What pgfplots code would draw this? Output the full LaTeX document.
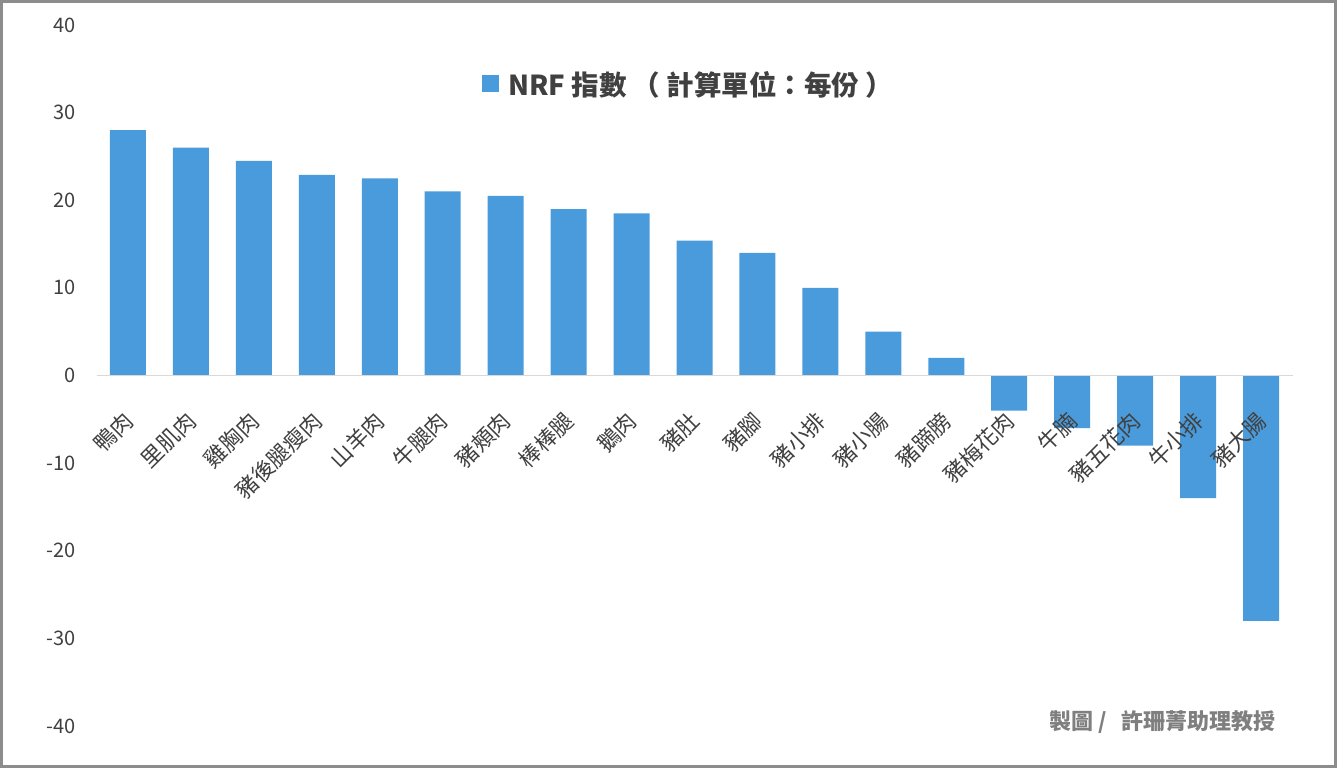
\documentclass[border=0pt]{standalone}
\usepackage{fontspec}
\setmainfont{Noto Sans CJK TC}
\usepackage{pgfplots}
\pgfplotsset{compat=1.18}
\definecolor{barblue}{HTML}{4A9BDB}
\definecolor{txt}{HTML}{404040}
\definecolor{zline}{HTML}{D9D9D9}
\definecolor{framec}{HTML}{8C8C8C}
\definecolor{credit}{HTML}{7F7F7F}
\begin{document}
\begin{tikzpicture}[x=1bp,y=1bp]
\useasboundingbox (0,0) rectangle (1337,768);
\draw[framec, line width=3bp] (1.5,1.5) rectangle (1335.5,766.5);
\begin{axis}[
  at={(96.5bp,42bp)}, anchor=south west,
  scale only axis, width=1196bp, height=701bp,
  xmin=-0.5, xmax=18.5, ymin=-40, ymax=40,
  ybar, bar width=36bp,
  axis on top,
  axis x line=middle, axis y line=left,
  x axis line style={-, draw=zline, line width=1bp},
  y axis line style={draw=none},
  hide obscured x ticks=false, hide obscured y ticks=false,
  major tick length=0pt,
  xtick={0,...,18},
  xticklabels={鴨肉,里肌肉,雞胸肉,豬後腿瘦肉,山羊肉,牛腿肉,豬頰肉,棒棒腿,鵝肉,豬肚,豬腳,豬小排,豬小腸,豬蹄膀,豬梅花肉,牛腩,豬五花肉,牛小排,豬大腸},
  xticklabel style={xshift=1bp, yshift=-41bp, rotate=45, anchor=east, inner sep=0pt, font=\fontsize{22bp}{24bp}\selectfont, text=txt},
  ytick={-40,-30,-20,-10,0,10,20,30,40},
  yticklabels={-40,-30,-20,-10,0,10,20,30,40},
  yticklabel style={anchor=east, inner sep=0pt, font=\fontsize{20bp}{22bp}\selectfont, text=txt, xshift=-21bp},
  legend style={at={(0.3223,0.916)}, anchor=west, draw=none, fill=none, inner sep=0pt,
    nodes={inner sep=0pt},
    font=\bfseries\fontsize{27.5bp}{29bp}\selectfont, text=txt},
  legend image code/.code={\fill[barblue] (0bp,-8.5bp) rectangle (17bp,8.5bp); \path (26bp,0bp);},
]
\addplot[fill=barblue, draw=none] coordinates {
(0,28) (1,26) (2,24.5) (3,22.9) (4,22.5) (5,21) (6,20.5) (7,19) (8,18.5) (9,15.4)
(10,14) (11,10) (12,5) (13,2) (14,-4) (15,-6) (16,-8) (17,-14) (18,-28)};
\addlegendentry{NRF 指數 （ 計算單位：每份 ）}
\end{axis}
\node[anchor=east, inner sep=0pt, text=credit, font=\bfseries\fontsize{22bp}{24bp}\selectfont] at (1276,46) {製圖 /\ \ \ 許珊菁助理教授};
\end{tikzpicture}
\end{document}
